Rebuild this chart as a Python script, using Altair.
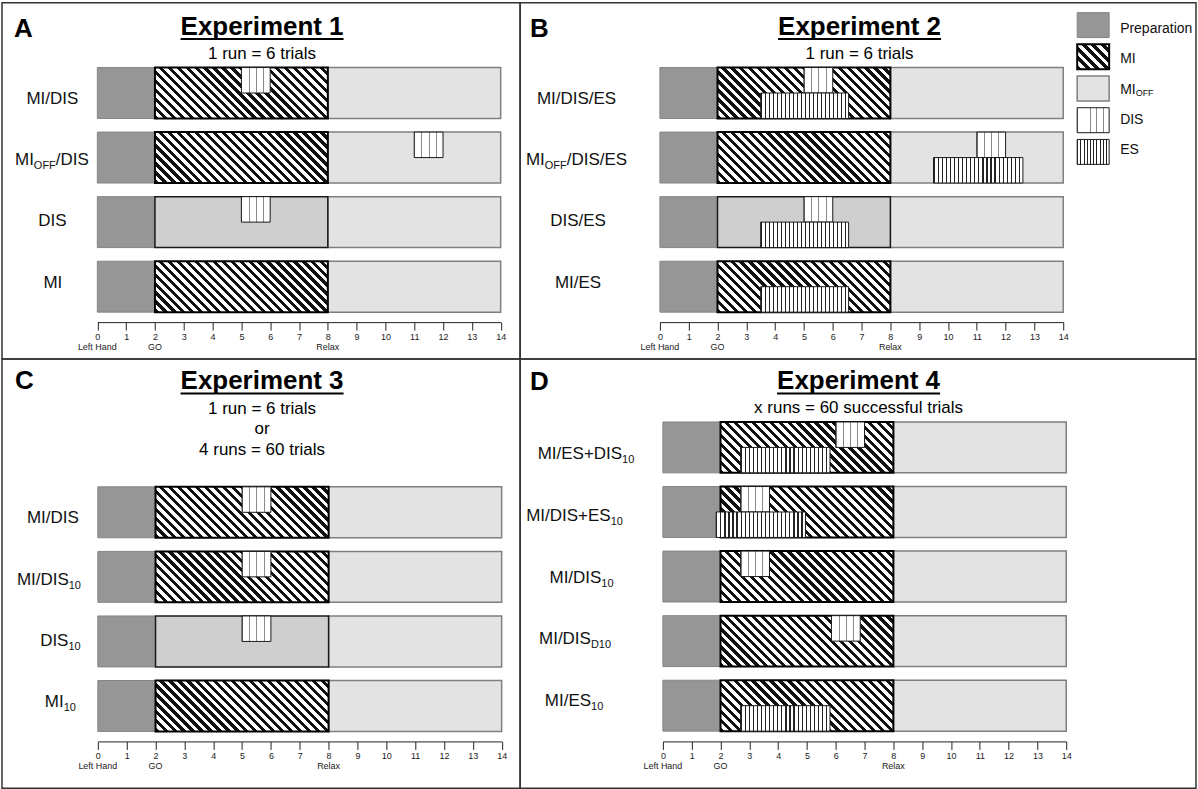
import re
import altair as alt
import pandas as pd

FONT = "Liberation Sans"

# ---------------- data ----------------
PHASES = [0, 2, 8, 14]          # trial start, GO, relax, end (s)
TICKS = list(range(15))
SUB_TICKS = [0, 2, 8]
SUB_TEXT = ["Left Hand", "GO", "Relax"]

A_rows = ["MI/DIS", "MI_{OFF}/DIS", "DIS", "MI"]
A_task = ["MI", "MI", "DIS", "MI"]
A_dis_start = [5, 11, 5, None]
A_dis_end = [6, 12, 6, None]
A_es_start = [None, None, None, None]
A_es_end = [None, None, None, None]

B_rows = ["MI/DIS/ES", "MI_{OFF}/DIS/ES", "DIS/ES", "MI/ES"]
B_task = ["MI", "MI", "DIS", "MI"]
B_dis_start = [5, 11, 5, None]
B_dis_end = [6, 12, 6, None]
B_es_start = [3.5, 9.5, 3.5, 3.5]
B_es_end = [6.55, 12.6, 6.55, 6.55]

C_rows = ["MI/DIS", "MI/DIS_{10}", "DIS_{10}", "MI_{10}"]
C_task = ["MI", "MI", "DIS", "MI"]
C_dis_start = [5, 5, 5, None]
C_dis_end = [6, 6, 6, None]
C_es_start = [None, None, None, None]
C_es_end = [None, None, None, None]

D_rows = ["MI/ES+DIS_{10}", "MI/DIS+ES_{10}", "MI/DIS_{10}", "MI/DIS_{D10}", "MI/ES_{10}"]
D_task = ["MI", "MI", "MI", "MI", "MI"]
D_dis_start = [6, 2.7, 2.7, 5.85, None]
D_dis_end = [7, 3.7, 3.7, 6.85, None]
D_es_start = [2.7, 1.85, None, None, 2.7]
D_es_end = [5.8, 4.95, None, None, 5.8]

TITLES = ["Experiment 1", "Experiment 2", "Experiment 3", "Experiment 4"]
SUBTITLES = [["1 run = 6 trials"], ["1 run = 6 trials"],
             ["1 run = 6 trials", "or", "4 runs = 60 trials"],
             ["x runs = 60 successful trials"]]
LETTERS = ["A", "B", "C", "D"]
LEGEND = ["Preparation", "MI", "MI_{OFF}", "DIS", "ES"]
LEGEND_KIND = ["prep", "task_MI", "off", "dis", "es"]

# ---------------- layout ----------------
BAND = 51
LEG_BAND = 25
GEO = {
    "A": dict(W=519, H=357, xr=[95.5, 499.5], yr=[65, 310], axis_y=320, sub_y=345,
              title_x=260.5, title_y=32, sub_ys=[56], letter_x=12, letter_y=34,
              label_cx=[50.5, 50, 50.5, 51]),
    "B": dict(W=677, H=357, xr=[140, 544], yr=[65, 310], axis_y=320, sub_y=345,
              title_x=340, title_y=32, sub_ys=[56], letter_x=10, letter_y=34,
              label_cx=[56.5, 56.5, 58, 58],
              legend=dict(xr=[558, 590], yr=[10, 162], text_x=601)),
    "C": dict(W=519, H=430, xr=[96, 500.5], yr=[128, 373], axis_y=383, sub_y=408,
              title_x=260.5, title_y=30, sub_ys=[55, 75.5, 96], letter_x=13, letter_y=30,
              label_cx=[51, 47, 58.5, 58.5]),
    "D": dict(W=677, H=430, xr=[143, 547], yr=[63, 372.7], axis_y=383, sub_y=408,
              title_x=339, title_y=30, sub_ys=[54], letter_x=10, letter_y=31,
              label_cx=[66, 54.5, 61.5, 55, 54]),
}

REG = {' ': 278, '/': 278, '+': 584, '=': 584, 'D': 722, 'E': 667, 'F': 611, 'I': 278,
       'M': 833, 'O': 778, 'P': 667, 'S': 667, 'a': 556, 'i': 222, 'n': 556, 'o': 556,
       'p': 556, 'r': 333, 't': 278, 'e': 556}
BOLD = {' ': 278, 'E': 667, 'x': 556, 'p': 611, 'e': 556, 'r': 389, 'i': 278, 'm': 889,
        'n': 611, 't': 333}


def text_w(s, size, table):
    return sum(table.get(c, 556) for c in s) * size / 1000.0


def parse(label):
    parts = []
    for m in re.finditer(r"_\{([^}]*)\}|([^_]+)", label):
        if m.group(1) is not None:
            parts.append((m.group(1), True))
        else:
            parts.append((m.group(2), False))
    return parts


def stripe_stops(n, frac, ink, paper):
    stops = []
    for k in range(n):
        a, b, c = k / n, (k + frac) / n, (k + 1) / n
        stops += [{"offset": round(a, 5), "color": ink}, {"offset": round(b, 5), "color": ink},
                  {"offset": round(b, 5), "color": paper}, {"offset": round(c, 5), "color": paper}]
    return stops


def diag_fill(W, H, period, frac=0.45, ink="#111111", paper="#ffffff"):
    r = H / W
    a = (1 + r) / (1 + r * r)
    n = max(1, int(round((W + H) / period)))
    return {"gradient": "linear", "x1": 0, "y1": 1, "x2": round(a, 5), "y2": round(1 - r * a, 5),
            "stops": stripe_stops(n, frac, ink, paper)}


def vert_fill(W, period, frac, ink, paper="#ffffff"):
    n = max(1, int(round(W / period)))
    return {"gradient": "linear", "x1": 0, "y1": 0, "x2": 1, "y2": 0,
            "stops": stripe_stops(n, frac, ink, paper)}


STROKE = {
    "off": dict(stroke="#7f7f7f", strokeWidth=1.5),
    "prep": dict(stroke="#858585", strokeWidth=1),
    "task_MI": dict(stroke="#000000", strokeWidth=2),
    "task_DIS": dict(stroke="#1a1a1a", strokeWidth=1.5),
    "dis": dict(stroke="#1a1a1a", strokeWidth=1),
    "es": dict(stroke="#1a1a1a", strokeWidth=1),
}
PREP_COLOR = "#969696"
OFF_COLOR = "#e3e3e3"
DISBG_COLOR = "#cfcfcf"


def mean(v, default):
    return sum(v) / len(v) if v else default


def text_layers(recs, yscale, W, main_size, sub_size, main_dy, sub_dy):
    df = pd.DataFrame(recs)
    xid = alt.Scale(domain=[0, W], range=[0, W], nice=False, zero=False)
    out = []
    for is_sub, size, dy in [(False, main_size, main_dy), (True, sub_size, sub_dy)]:
        d = df[df["sub"] == is_sub]
        if d.empty:
            continue
        out.append(alt.Chart(d).mark_text(font=FONT, fontSize=size, align="left",
                                          baseline="alphabetic", dy=dy, color="#111111").encode(
            x=alt.X("px:Q", scale=xid, axis=None),
            y=alt.Y("row:N", scale=yscale, axis=None),
            text="t:N"))
    return out


def pieces(labels, lefts, main_size, sub_size):
    recs = []
    for r, x in zip(labels, lefts):
        for t, s in parse(r):
            recs.append({"row": r, "t": t, "sub": s, "px": x})
            x += text_w(t, sub_size if s else main_size, REG)
    return recs


def txt(s, x, y, size, weight="normal", align="center"):
    return alt.Chart(pd.DataFrame({"t": [s]})).mark_text(
        font=FONT, fontSize=size, fontWeight=weight, align=align, baseline="alphabetic",
        color="#000000").encode(x=alt.value(x), y=alt.value(y), text="t:N")


def build(key, rows, task, dis_s, dis_e, es_s, es_e, title, subs, letter, legend=False):
    g = GEO[key]
    W, H = g["W"], g["H"]
    n = len(rows)
    step = (g["yr"][1] - g["yr"][0] - BAND) / (n - 1)
    pin = 1 - BAND / step
    pps = (g["xr"][1] - g["xr"][0]) / (PHASES[-1] - PHASES[0])

    recs = []
    for i, r in enumerate(rows):
        recs.append(dict(row=r, kind="prep", start=PHASES[0], end=PHASES[1]))
        recs.append(dict(row=r, kind="task_" + task[i], start=PHASES[1], end=PHASES[2]))
        recs.append(dict(row=r, kind="off", start=PHASES[2], end=PHASES[3]))
        if dis_s[i] is not None:
            recs.append(dict(row=r, kind="dis", start=dis_s[i], end=dis_e[i]))
        if es_s[i] is not None:
            recs.append(dict(row=r, kind="es", start=es_s[i], end=es_e[i]))
    df = pd.DataFrame(recs)

    xs = alt.Scale(domain=[PHASES[0], PHASES[-1]], range=g["xr"], nice=False, zero=False)

    def ys(shift=0.0):
        return alt.Scale(domain=rows, range=[g["yr"][0] + shift, g["yr"][1] + shift],
                         paddingInner=pin, paddingOuter=0)

    es_w = [(e - s) * pps for s, e in zip(es_s, es_e) if s is not None]
    dis_w = [(e - s) * pps for s, e in zip(dis_s, dis_e) if s is not None]
    seg_w = (PHASES[2] - PHASES[1]) * pps
    fills = {
        "off": OFF_COLOR,
        "prep": PREP_COLOR,
        "task_DIS": DISBG_COLOR,
        "task_MI": diag_fill(seg_w, BAND, 9, 0.48),
        "dis": vert_fill(mean(dis_w, 29), 7, 0.14, "#8a8a8a"),
        "es": vert_fill(mean(es_w, 89), 4, 0.3, "#222222"),
    }

    axis = alt.Axis(values=TICKS, tickSize=8, tickColor="#222222", domainColor="#222222",
                    labelFont=FONT, labelFontSize=9, labelColor="#222222", labelPadding=2,
                    offset=g["axis_y"] - H, grid=False, title=None, labelAngle=0, format="d",
                    labelFlush=False, labelOverlap=False, domainWidth=1, tickWidth=1)

    layers = []
    order = [("off", 0, None), ("prep", 0, None), ("task_MI", 0, None), ("task_DIS", 0, None),
             ("dis", -BAND / 4, BAND / 2), ("es", BAND / 4, BAND / 2)]
    for kind, shift, size in order:
        d = df[df["kind"] == kind]
        if d.empty:
            continue
        mk = dict(fill=fills[kind], **STROKE[kind])
        if size:
            mk["size"] = size
        layers.append(alt.Chart(d).mark_bar(**mk).encode(
            x=alt.X("start:Q", scale=xs, axis=axis if kind == "off" else None),
            x2="end:Q",
            y=alt.Y("row:N", scale=ys(shift), axis=None)))

    sub_df = pd.DataFrame({"v": SUB_TICKS, "t": SUB_TEXT})
    layers.append(alt.Chart(sub_df).mark_text(font=FONT, fontSize=9, baseline="middle",
                                              color="#222222").encode(
        x=alt.X("v:Q", scale=xs, axis=None), y=alt.value(g["sub_y"]), text="t:N"))

    # centred row labels with subscripts
    lefts = []
    for r, cx in zip(rows, g["label_cx"]):
        w = sum(text_w(t, 11 if s else 17, REG) for t, s in parse(r))
        lefts.append(cx - w / 2)
    layers += text_layers(pieces(rows, lefts, 17, 11), ys(0), W, 17, 11, 6, 10)

    layers.append(txt(title, g["title_x"], g["title_y"], 26, "bold"))
    tw = text_w(title, 26, BOLD)
    layers.append(alt.Chart(pd.DataFrame({"t": [title]})).mark_rule(color="#000000", strokeWidth=2).encode(
        x=alt.value(g["title_x"] - tw / 2), x2=alt.value(g["title_x"] + tw / 2),
        y=alt.value(g["title_y"] + 4.5)))
    for s, y in zip(subs, g["sub_ys"]):
        layers.append(txt(s, g["title_x"], y, 17))
    layers.append(txt(letter, g["letter_x"], g["letter_y"], 26, "bold", "left"))

    if legend:
        L = g["legend"]
        ldf = pd.DataFrame({"row": LEGEND, "kind": LEGEND_KIND, "lo": 0, "hi": 1})
        lstep = (L["yr"][1] - L["yr"][0] - LEG_BAND) / (len(LEGEND) - 1)
        lys = alt.Scale(domain=LEGEND, range=L["yr"], paddingInner=1 - LEG_BAND / lstep, paddingOuter=0)
        lxs = alt.Scale(domain=[0, 1], range=L["xr"], nice=False, zero=False)
        lw = L["xr"][1] - L["xr"][0]
        lfills = {"prep": PREP_COLOR, "task_MI": diag_fill(lw, LEG_BAND, 9, 0.5),
                  "off": OFF_COLOR,
                  "dis": vert_fill(lw, 7, 0.14, "#8a8a8a"), "es": vert_fill(lw, 3.2, 0.3, "#222222")}
        for kind in LEGEND_KIND:
            d = ldf[ldf["kind"] == kind]
            layers.append(alt.Chart(d).mark_bar(fill=lfills[kind], **STROKE[kind]).encode(
                x=alt.X("lo:Q", scale=lxs, axis=None), x2="hi:Q",
                y=alt.Y("row:N", scale=lys, axis=None)))
        layers += text_layers(pieces(LEGEND, [L["text_x"]] * len(LEGEND), 14, 9), lys, W, 14, 9, 5, 8)

    return alt.layer(*layers).properties(width=W, height=H).resolve_scale(x="independent", y="independent")


pA = build("A", A_rows, A_task, A_dis_start, A_dis_end, A_es_start, A_es_end, TITLES[0], SUBTITLES[0], LETTERS[0])
pB = build("B", B_rows, B_task, B_dis_start, B_dis_end, B_es_start, B_es_end, TITLES[1], SUBTITLES[1], LETTERS[1], legend=True)
pC = build("C", C_rows, C_task, C_dis_start, C_dis_end, C_es_start, C_es_end, TITLES[2], SUBTITLES[2], LETTERS[2])
pD = build("D", D_rows, D_task, D_dis_start, D_dis_end, D_es_start, D_es_end, TITLES[3], SUBTITLES[3], LETTERS[3])

chart = alt.concat(pA, pB, pC, pD, columns=2, spacing=0, bounds="flush", align="each").properties(
    padding=1, background="white"
).configure_view(stroke="#333333", strokeWidth=1.5)

chart.save("out.html", embed_options={"renderer": "svg", "actions": False})
